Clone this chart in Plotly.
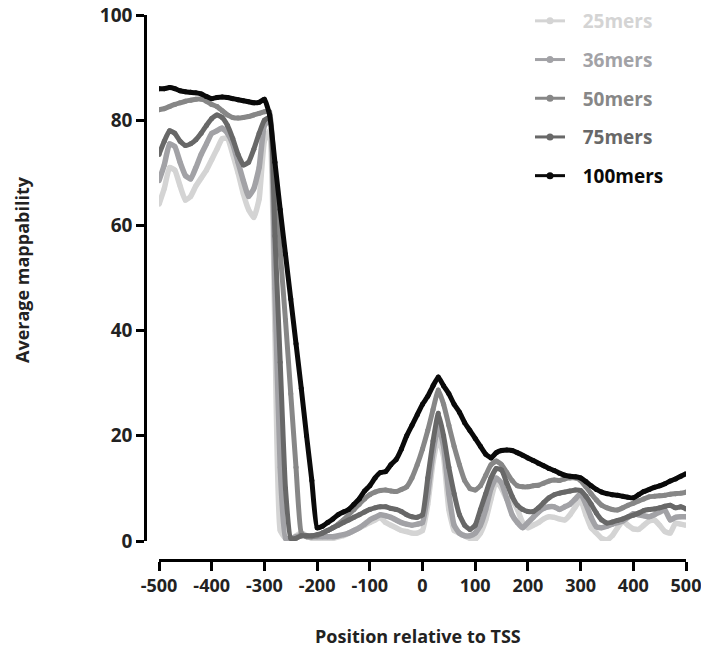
import plotly.graph_objects as go

# positions relative to TSS, every 10 bp
position = list(range(-500, 501, 10))
x_ticks = list(range(-500, 501, 100))
x_tick_labels = [str(v) for v in x_ticks]  # plain hyphen, as in the original
y_ticks = [0, 20, 40, 60, 80, 100]

# Average mappability (%)
mers_25 = [64, 67, 71, 70.5, 67.5, 64.8, 65.5, 67.5, 69, 70.5,
           72.5, 74.5, 76.5, 76.5, 73.5, 70, 66, 63, 61.5, 65,
           76, 78, 40, 2, 0.5, 0.3, 1, 1.5, 1, 0.5,
           0.5, 0.5, 0.5, 0.5, 0.8, 1, 1.5, 2, 2.5, 3,
           3.5, 4, 4.5, 3.5, 3, 2.5, 2, 1.8, 1.5, 1.5,
           2, 7, 15, 19.8, 16, 6, 2, 1.5, 1, 0.5,
           0.3, 1.5, 4, 8, 11.5, 10, 8, 7.8, 6, 3.5,
           2.5, 3, 3.5, 4.2, 4.6, 4.5, 4.2, 4, 5, 6.5,
           7.8, 5, 2.5, 1.5, 0.5, 0.2, 1, 2.5, 3.8, 3,
           2.3, 2.2, 3, 3.8, 4, 3, 1.8, 1.5, 3.4, 3.2,
           3]
mers_36 = [68.5, 71.5, 75.5, 75, 72, 69.5, 68.8, 71, 73.5, 75.5,
           77.5, 78, 78.5, 77.5, 75.5, 72, 68.5, 65.5, 67, 71,
           79, 80, 48, 14, 0.5, 0.5, 0.8, 1, 1, 0.8,
           0.8, 0.8, 0.8, 0.8, 1, 1.2, 1.5, 2, 2.5, 3.2,
           4, 4.5, 5, 4.8, 4.5, 4, 3.5, 3.2, 3, 3.2,
           3.5, 9, 17, 22, 18, 9, 3, 1.5, 1, 1,
           1.5, 3, 6, 10, 12, 11, 8, 5, 3.5, 2.5,
           3.5, 4.5, 5.5, 6.2, 6.5, 6.5, 6, 6.5, 7, 8,
           9, 7, 4.5, 2.7, 2.5, 2.8, 3.2, 3.5, 3.8, 4.5,
           5.2, 5, 4.8, 4.6, 5, 5.5, 5.9, 4, 4.5, 4.6,
           4.6]
mers_50 = [82, 82.2, 82.6, 83, 83.3, 83.6, 83.8, 84, 84, 83.6,
           83, 82.6, 81.8, 81, 80.5, 80.4, 80.5, 80.7, 81, 81.3,
           81.6, 81.6, 68, 55, 42, 28, 14, 1.5, 0.8, 0.8,
           1, 1.5, 2, 2.5, 3.2, 4, 5, 6, 7, 8,
           8.8, 9.3, 9.6, 9.7, 9.5, 9.4, 9.8, 10.3, 12, 14.5,
           17.5, 21, 25, 28.7, 26, 22, 18, 14.5, 11.5, 10,
           9.7, 10.5, 12.5, 14.5, 15.2, 14.5, 13, 11.5, 10.5, 10.3,
           10.3, 10.5, 10.6, 11, 11.4, 11.6, 11.5, 11.8, 12, 12,
           11.5, 10.3, 9, 7.8, 6.8, 6.3, 6, 5.9, 6.3, 6.8,
           7.2, 7.6, 8, 8.4, 8.5, 8.6, 8.7, 8.9, 9, 9.1,
           9.3]
mers_75 = [73.5, 76, 78, 77.5, 76, 75.2, 75.5, 76.3, 77.5, 79,
           80.3, 81, 80.5, 79, 76.5, 73.5, 71.5, 72, 74.5, 77.5,
           80, 80.5, 58, 34, 10, 0.5, 0.5, 1, 1, 1,
           1.2, 1.5, 2, 2.5, 3, 3.5, 4, 4.5, 5, 5.5,
           6, 6.3, 6.5, 6.5, 6.2, 6, 5.6, 5, 4.6, 4.5,
           5, 12, 19, 24.3, 20, 14, 9, 5, 3, 2.2,
           3, 6, 9, 12, 13.8, 13.5, 11, 8.5, 6.8, 6,
           5.6, 5.6, 6.3, 7.3, 8.2, 8.8, 9.1, 9.3, 9.5, 9.7,
           9.6, 8.5, 7, 5.3, 4, 3.4, 3.6, 3.9, 4.2, 4.6,
           4.9, 5.3, 5.8, 6, 6.1, 6.3, 6.6, 6.8, 6.3, 6.5,
           6.1]
mers_100 = [86, 86, 86.2, 86, 85.6, 85.4, 85.3, 85.2, 85, 84.5,
            84.1, 84.3, 84.4, 84.3, 84.1, 83.9, 83.7, 83.5, 83.3, 83.4,
            84, 81, 72, 63, 54.5, 46, 37.5, 29, 20, 11.5,
            2.5, 2.8, 3.5, 4.2, 5, 5.5, 6, 7, 8, 9.5,
            10.5, 12, 13, 13.2, 14.5, 15.5, 17.5, 20, 22, 24,
            26, 27.5, 29.5, 31.2, 29.5, 28, 26, 24.5, 22.5, 21,
            19.5, 18, 16.5, 15.8, 16.8, 17.2, 17.3, 17.2, 16.8, 16.3,
            15.8, 15.3, 14.8, 14.3, 13.8, 13.4, 12.9, 12.5, 12.3, 12.2,
            12, 11.3, 10.5, 9.8, 9.3, 9, 8.8, 8.7, 8.5, 8.3,
            8.2, 8.8, 9.4, 9.8, 10.2, 10.5, 10.9, 11.4, 11.8, 12.3,
            12.8]

names = ["25mers", "36mers", "50mers", "75mers", "100mers"]
series = [mers_25, mers_36, mers_50, mers_75, mers_100]
colors = ["#d4d4d4", "#a2a2a6", "#878787", "#686868", "#0a0a0a"]
widths = [5.5, 5.5, 5, 5, 5]

W, H = 701, 651
FONT = "Open Sans"
TXT = "#222222"
GAP = "\u2002\u2009"  # pushes legend text right of the short symbol

fig = go.Figure()
for name, vals, col, w in zip(names, series, colors, widths):
    fig.add_trace(go.Scatter(
        x=position, y=vals, mode="lines+markers", showlegend=False,
        line=dict(color=col, width=w, shape="spline", smoothing=0.4),
        marker=dict(color=col, size=5),
    ))
# legend entries: thinner line with a dot, text in the series colour
for name, col in zip(names, colors):
    fig.add_trace(go.Scatter(
        x=[None], y=[None], mode="lines+markers", legendgroup=name,
        name=f"{GAP}<span style='color:{col}'>{name}</span>",
        line=dict(color=col, width=3), marker=dict(color=col, size=7),
    ))

fig.update_layout(
    width=W, height=H,
    margin=dict(l=0, r=0, t=0, b=0, autoexpand=False),
    paper_bgcolor="white", plot_bgcolor="white",
    font=dict(family=FONT, size=18, color=TXT, weight="bold"),
    showlegend=True,
    legend=dict(x=530 / W, y=1 - 2 / H, xanchor="left", yanchor="top",
                font=dict(size=19, family=FONT, weight="bold"),
                tracegroupgap=11, itemwidth=30,
                bgcolor="rgba(0,0,0,0)"),
    xaxis=dict(domain=[159 / W, 686 / W], range=[-500, 500],
               anchor="free", position=1 - 560 / H,
               tickvals=x_ticks, ticktext=x_tick_labels,
               ticklabeloverflow="allow",
               showline=True, linecolor="black", linewidth=2.5,
               ticks="outside", ticklen=9, tickwidth=2.5, tickcolor="black",
               showgrid=False, zeroline=False,
               tickfont=dict(size=18, family=FONT, weight="bold", color=TXT)),
    yaxis=dict(domain=[1 - 541 / H, 1 - 15 / H], range=[0, 100],
               anchor="free", position=145 / W,
               tickvals=y_ticks,
               showline=True, linecolor="black", linewidth=2.5,
               ticks="outside", ticklen=8, tickwidth=2.5, tickcolor="black",
               showgrid=False, zeroline=False,
               tickfont=dict(size=19, family=FONT, weight="bold", color=TXT)),
    annotations=[
        dict(text="Position relative to TSS", x=418 / W, y=1 - 636 / H,
             xref="paper", yref="paper", showarrow=False,
             xanchor="center", yanchor="middle",
             font=dict(size=18, family=FONT, weight="bold", color=TXT)),
        dict(text="Average mappability", x=22 / W, y=1 - 270 / H,
             xref="paper", yref="paper", showarrow=False, textangle=-90,
             xanchor="center", yanchor="middle",
             font=dict(size=18, family=FONT, weight="bold", color=TXT)),
    ],
)

# the page's default body margin would shift the whole picture by 8 px
fig.write_html("out.html", config={"displayModeBar": False},
               post_script="document.body.style.margin='0px';")
